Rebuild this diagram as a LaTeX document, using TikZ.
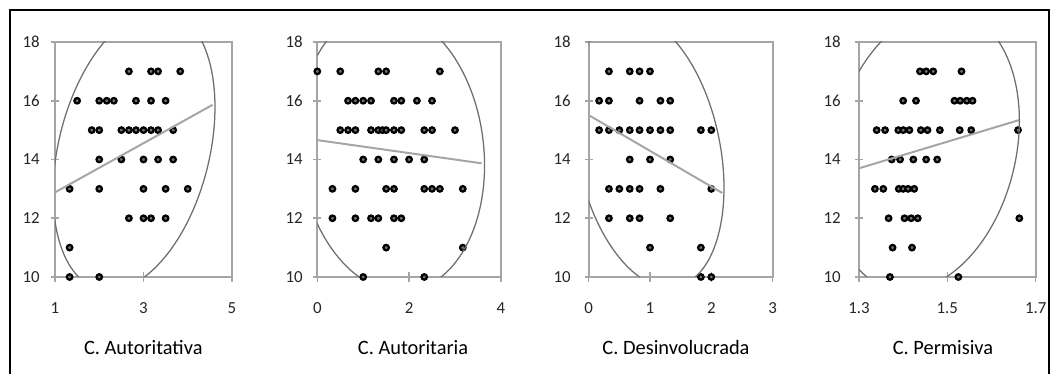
\documentclass[tikz,border=0pt]{standalone}
\usepackage{fontspec}
\setmainfont{Carlito}
\definecolor{axisgray}{RGB}{165,165,165}
\definecolor{ringgray}{RGB}{110,110,110}
\tikzset{
	plotframe/.style={draw=axisgray, line width=1.3pt},
	tickmark/.style={draw=axisgray, line width=1.1pt},
	regline/.style={draw=axisgray, line width=1.4pt},
	ringline/.style={draw=ringgray, line width=0.9pt},
	dot/.style={circle, draw=black, fill=black!55, line width=1.6pt, inner sep=0pt, minimum size=3.9pt},
	ticklab/.style={inner sep=0pt, text=black!85, font=\fontsize{12}{14}\selectfont},
	titlelab/.style={inner sep=0pt, font=\fontsize{14.5}{17}\selectfont}
}

\begin{document}
\begin{tikzpicture}[x=0.025cm, y=0.025cm]
	\useasboundingbox (0,0) rectangle (1052,374);
	\begin{scope}
		\clip (0,0) rectangle (1052,374);
		\draw[line width=1.8pt] (10,-10) rectangle (1049,364);
	\end{scope}

	% C. Autoritativa
	\draw[plotframe] (55,97) rectangle (232,332);
	\foreach \v/\py in {10/97,12/155.75,14/214.5,16/273.25,18/332} {
		\draw[tickmark] (51,\py) -- (59,\py);
		\node[ticklab, anchor=east] (a1y\v) at (40,\py) {\v};
	}
	\foreach \v/\px in {1/55,3/143.5,5/232} {
		\draw[tickmark] (\px,92) -- (\px,102);
		\node[ticklab] (a1x\v) at (\px,66) {\v};
	}
	\begin{scope}[shift={(10.75,-196.75)}, xscale=44.25, yscale=29.375]
		\foreach \y/\xs in {17/{2.67,3.17,3.33,3.83}, 16/{1.5,2,2.17,2.33,2.83,3.17,3.5},
			15/{1.83,2,2.5,2.67,2.83,3,3.17,3.33,3.67}, 14/{2,2.5,3,3.33,3.67},
			13/{1.33,2,3,3.5,4}, 12/{2.67,3,3.17,3.5}, 11/{1.33}, 10/{1.33,2}}
			\foreach \x [count=\k] in \xs
				\node[dot] (d1-\y-\k) at (\x,\y) {};
		\draw[regline] (1,12.88) -- (4.56,15.86);
	\end{scope}
	\begin{scope}
		\clip (55,97) rectangle (232,332);
		\draw[ringline, shift={(134.0,223.8)}, rotate=-14.0] (0,0) ellipse [x radius=75.4, y radius=143.3];
	\end{scope}
	\node[titlelab] (t1) at (143.3,26) {C. Autoritativa};

	% C. Autoritaria
	\draw[plotframe] (317.3,97) rectangle (500.9,332);
	\foreach \v/\py in {10/97,12/155.75,14/214.5,16/273.25,18/332} {
		\draw[tickmark] (313.3,\py) -- (321.3,\py);
		\node[ticklab, anchor=east] (a2y\v) at (303,\py) {\v};
	}
	\foreach \v/\px in {0/317.3,2/409.1,4/500.9} {
		\draw[tickmark] (\px,92) -- (\px,102);
		\node[ticklab] (a2x\v) at (\px,66) {\v};
	}
	\begin{scope}[shift={(317.3,-196.75)}, xscale=45.9, yscale=29.375]
		\foreach \y/\xs in {17/{0,0.5,1.33,1.5,2.67}, 16/{0.67,0.83,1,1.17,1.67,1.83,2.17,2.5},
			15/{0.5,0.67,0.83,1.17,1.33,1.42,1.5,1.67,1.83,2.33,2.5,3}, 14/{1,1.33,1.67,2,2.33},
			13/{0.33,0.83,1.5,1.67,2.33,2.5,2.67,3.17}, 12/{0.33,0.83,1.17,1.33,1.67,1.83},
			11/{1.5,3.17}, 10/{1,2.33}}
			\foreach \x [count=\k] in \xs
				\node[dot] (d2-\y-\k) at (\x,\y) {};
		\draw[regline] (0,14.66) -- (3.58,13.87);
	\end{scope}
	\begin{scope}
		\clip (317.3,97) rectangle (500.9,332);
		\draw[ringline, shift={(391.6,223.0)}, rotate=6.7] (0,0) ellipse [x radius=92.1, y radius=141.1];
	\end{scope}
	\node[titlelab] (t2) at (413,26) {C. Autoritaria};

	% C. Desinvolucrada
	\draw[plotframe] (588.7,97) rectangle (772.6,332);
	\foreach \v/\py in {10/97,12/155.75,14/214.5,16/273.25,18/332} {
		\draw[tickmark] (584.7,\py) -- (592.7,\py);
		\node[ticklab, anchor=east] (a3y\v) at (571,\py) {\v};
	}
	\foreach \v/\px in {0/588.7,1/650,2/711.3,3/772.6} {
		\draw[tickmark] (\px,92) -- (\px,102);
		\node[ticklab] (a3x\v) at (\px,66) {\v};
	}
	\begin{scope}[shift={(588.7,-196.75)}, xscale=61.3, yscale=29.375]
		\foreach \y/\xs in {17/{0.33,0.67,0.83,1}, 16/{0.17,0.33,0.83,1.17,1.33},
			15/{0.17,0.33,0.5,0.67,0.83,1,1.17,1.33,1.83,2}, 14/{0.67,1,1.33},
			13/{0.33,0.5,0.67,0.83,1.17,2}, 12/{0.33,0.67,0.83,1.33}, 11/{1,1.83}, 10/{1.83,2}}
			\foreach \x [count=\k] in \xs
				\node[dot] (d3-\y-\k) at (\x,\y) {};
		\draw[regline] (0,15.51) -- (2.18,12.86);
	\end{scope}
	\begin{scope}
		\clip (588.7,97) rectangle (772.6,332);
		\draw[ringline, shift={(648.7,222.9)}, rotate=11.6] (0,0) ellipse [x radius=71.4, y radius=138.4];
	\end{scope}
	\node[titlelab] (t3) at (676,26) {C. Desinvolucrada};

	% C. Permisiva
	\draw[plotframe] (859,97) rectangle (1035.7,332);
	\foreach \v/\py in {10/97,12/155.75,14/214.5,16/273.25,18/332} {
		\draw[tickmark] (855,\py) -- (863,\py);
		\node[ticklab, anchor=east] (a4y\v) at (841,\py) {\v};
	}
	\foreach \v/\px [count=\k] in {1.3/859,1.5/947.3,1.7/1035.7} {
		\draw[tickmark] (\px,92) -- (\px,102);
		\node[ticklab] (a4x\k) at (\px,66) {\v};
	}
	\begin{scope}[shift={(284.8,-196.75)}, xscale=441.7, yscale=29.375]
		\foreach \y/\xs in {17/{1.438,1.452,1.468,1.532}, 16/{1.400,1.429,1.516,1.529,1.544,1.557},
			15/{1.340,1.359,1.389,1.400,1.414,1.440,1.455,1.483,1.528,1.554,1.660},
			14/{1.374,1.393,1.423,1.452,1.477}, 13/{1.336,1.355,1.390,1.400,1.411,1.425},
			12/{1.367,1.403,1.418,1.433,1.663}, 11/{1.376,1.420}, 10/{1.370,1.525}}
			\foreach \x [count=\k] in \xs
				\node[dot] (d4-\y-\k) at (\x,\y) {};
		\draw[regline] (1.3,13.70) -- (1.662,15.34);
	\end{scope}
	\begin{scope}
		\clip (859,97) rectangle (1035.7,332);
		\draw[ringline, shift={(924.6,223.9)}, rotate=-13.7] (0,0) ellipse [x radius=91.1, y radius=142.8];
	\end{scope}
	\node[titlelab] (t4) at (943,26) {C. Permisiva};
\end{tikzpicture}
\end{document}
